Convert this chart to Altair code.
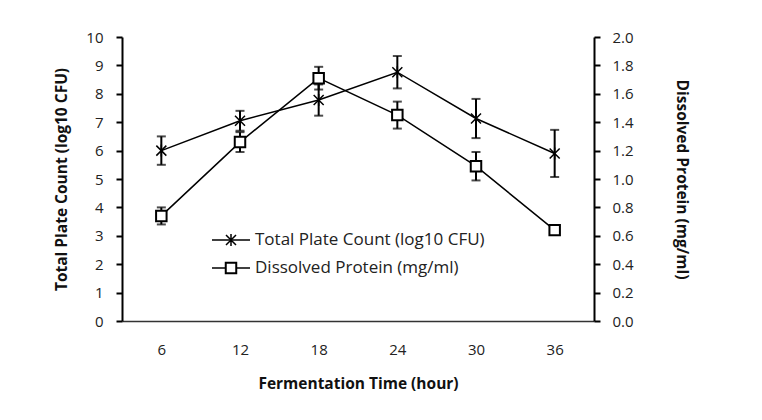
import altair as alt
import pandas as pd

times = [6, 12, 18, 24, 30, 36]
tpc = [6.0, 7.05, 7.78, 8.76, 7.13, 5.9]
tpc_err = [0.5, 0.35, 0.55, 0.57, 0.69, 0.83]
protein = [0.74, 1.26, 1.71, 1.45, 1.09, 0.64]
protein_err = [0.06, 0.07, 0.08, 0.095, 0.10, 0.02]
legend_labels = ["Total Plate Count (log10 CFU)", "Dissolved Protein (mg/ml)"]

df = pd.DataFrame({
    "time": times,
    "tpc": tpc,
    "tpc_lo": [v - e for v, e in zip(tpc, tpc_err)],
    "tpc_hi": [v + e for v, e in zip(tpc, tpc_err)],
    "prot": protein,
    "prot_lo": [v - e for v, e in zip(protein, protein_err)],
    "prot_hi": [v + e for v, e in zip(protein, protein_err)],
})

FONT = "Open Sans"
STAR = "M-1,-1L1,1M-1,1L1,-1M0,-1.2L0,1.2"

x_axis = alt.Axis(title="Fermentation Time (hour)", labelAngle=0, ticks=False,
                  labelPadding=21, titlePadding=19, domainColor="#333", domainWidth=1.5)
x_scale = alt.Scale(type="point", padding=0.5)


def X():
    return alt.X("time:O", scale=x_scale, axis=x_axis)


yl = alt.Scale(domain=[0, 10])
yl_axis = alt.Axis(title="Total Plate Count (log10 CFU)", values=list(range(0, 11)),
                   grid=False, tickSize=6, tickWidth=2, domainWidth=2,
                   titlePadding=16, labelPadding=13)


def YL(f):
    return alt.Y(f, scale=yl, axis=yl_axis)


yr = alt.Scale(domain=[0, 2])
yr_axis = alt.Axis(title="Dissolved Protein (mg/ml)", orient="right", format=".1f",
                   values=[0, 0.2, 0.4, 0.6, 0.8, 1.0, 1.2, 1.4, 1.6, 1.8, 2.0],
                   grid=False, tickSize=6, tickWidth=2, domainWidth=2,
                   titleAngle=90, titlePadding=40, labelPadding=12)


def YR(f):
    return alt.Y(f, scale=yr, axis=yr_axis)


base = alt.Chart(df)

tpc_line = base.mark_line(color="black", strokeWidth=1.5).encode(x=X(), y=YL("tpc:Q"))
tpc_rule = base.mark_rule(color="black", strokeWidth=2).encode(x=X(), y=YL("tpc_lo:Q"), y2="tpc_hi:Q")
tpc_cap_lo = base.mark_tick(color="black", thickness=2, size=9).encode(x=X(), y=YL("tpc_lo:Q"))
tpc_cap_hi = base.mark_tick(color="black", thickness=2, size=9).encode(x=X(), y=YL("tpc_hi:Q"))
tpc_pts = base.mark_point(shape=STAR, size=100, color="black", filled=False,
                          strokeWidth=1.5, opacity=1).encode(x=X(), y=YL("tpc:Q"))
left = alt.layer(tpc_line, tpc_rule, tpc_cap_lo, tpc_cap_hi, tpc_pts)

prot_line = base.mark_line(color="black", strokeWidth=1.5).encode(x=X(), y=YR("prot:Q"))
prot_rule = base.mark_rule(color="black", strokeWidth=2).encode(x=X(), y=YR("prot_lo:Q"), y2="prot_hi:Q")
prot_cap_lo = base.mark_tick(color="black", thickness=2, size=9).encode(x=X(), y=YR("prot_lo:Q"))
prot_cap_hi = base.mark_tick(color="black", thickness=2, size=9).encode(x=X(), y=YR("prot_hi:Q"))
prot_pts = base.mark_point(shape="square", size=110, fill="white", filled=True,
                           stroke="black", strokeWidth=2, opacity=1).encode(x=X(), y=YR("prot:Q"))
right = alt.layer(prot_line, prot_rule, prot_cap_lo, prot_cap_hi, prot_pts)

# manual legend
leg = alt.Chart(pd.DataFrame({"label": legend_labels}))
f1 = alt.datum.label == legend_labels[0]
f2 = alt.datum.label == legend_labels[1]
l1_line = leg.transform_filter(f1).mark_rule(color="black", strokeWidth=1.5).encode(
    x=alt.value(90), x2=alt.value(128), y=alt.value(203))
l1_pt = leg.transform_filter(f1).mark_point(
    shape=STAR, size=100, color="black", filled=False, strokeWidth=1.5, opacity=1).encode(
    x=alt.value(109), y=alt.value(203))
l1_txt = leg.transform_filter(f1).mark_text(
    align="left", baseline="middle", font=FONT, fontSize=17, color="#222").encode(
    x=alt.value(133), y=alt.value(203), text="label:N")
l2_line = leg.transform_filter(f2).mark_rule(color="black", strokeWidth=1.5).encode(
    x=alt.value(90), x2=alt.value(128), y=alt.value(231))
l2_pt = leg.transform_filter(f2).mark_point(
    shape="square", size=110, fill="white", filled=True, stroke="black", strokeWidth=2,
    opacity=1).encode(x=alt.value(109), y=alt.value(231))
l2_txt = leg.transform_filter(f2).mark_text(
    align="left", baseline="middle", font=FONT, fontSize=17, color="#222").encode(
    x=alt.value(133), y=alt.value(231), text="label:N")
legend = alt.layer(l1_line, l1_pt, l1_txt, l2_line, l2_pt, l2_txt)

chart = alt.layer(left, right, legend).resolve_scale(y="independent").properties(
    width=472, height=284,
    background="white",
    autosize=alt.AutoSizeParams(type="none"),
    padding={"left": 114, "top": 29, "right": 160, "bottom": 90},
).configure_view(stroke=None).configure_axis(
    labelFont=FONT, titleFont=FONT, labelFontSize=15, titleFontSize=15.5,
    labelColor="#222", titleColor="#111", titleFontWeight="bold",
    domainColor="black", tickColor="black",
)

chart.save("out.html", embed_options={"renderer": "svg", "actions": False})
